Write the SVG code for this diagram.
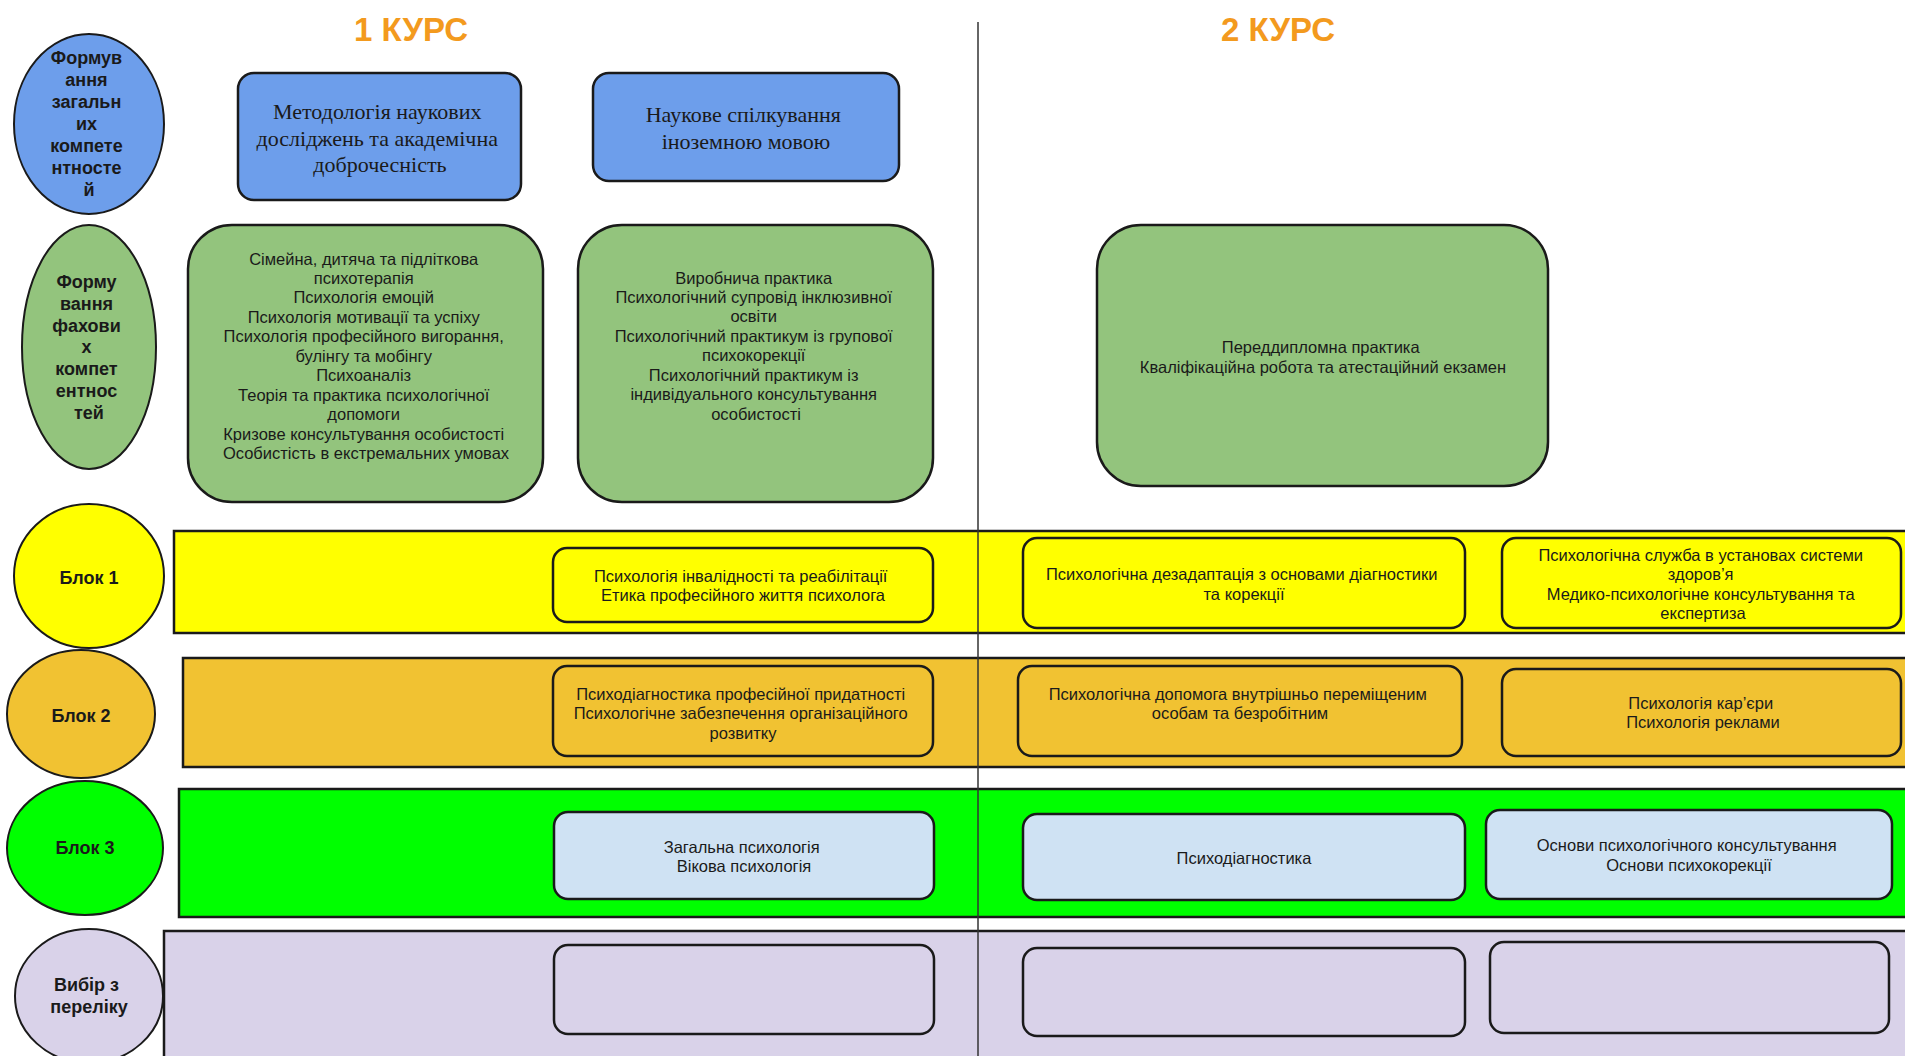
<svg xmlns="http://www.w3.org/2000/svg" width="1905" height="1056" viewBox="0 0 1905 1056">
<style>
  .title{font-family:"Liberation Sans",Arial,sans-serif;font-weight:bold;font-size:33px;fill:#f39a1e;text-anchor:middle}
  .lbl{font-family:"Liberation Sans",Arial,sans-serif;font-weight:bold;font-size:18px;fill:#1a1a1a;text-anchor:middle}
  .serif{font-family:"Liberation Serif","Times New Roman",serif;font-size:22px;fill:#1a1a1a;text-anchor:middle}
  .txt{font-family:"Liberation Sans",Arial,sans-serif;font-size:16.5px;fill:#1a1a1a;text-anchor:middle}
  .ell{stroke:#1a1a1a;stroke-width:2}
  .box{stroke:#1a1a1a;stroke-width:2.5}
  .band{stroke:#1a1a1a;stroke-width:2.5}
  .blue{fill:#6d9eeb}
  .sage{fill:#93c47d}
  .yel{fill:#ffff00}
  .org{fill:#f1c232}
  .lime{fill:#00ff00}
  .lblue{fill:#cfe2f3}
  .lav{fill:#d9d2e9}
</style>
<rect width="1905" height="1056" fill="#ffffff"/>

<g id="titles">
  <text class="title" x="411" y="41">1 КУРС</text>
  <text class="title" x="1278" y="41">2 КУРС</text>
</g>

<!-- Bands -->
<g id="band-blok1"><rect class="band yel" x="174" y="531" width="1740" height="102"/></g>
<g id="band-blok2"><rect class="band org" x="183" y="658" width="1731" height="109"/></g>
<g id="band-blok3"><rect class="band lime" x="179" y="789" width="1735" height="128"/></g>
<g id="band-vybir"><rect class="band lav" x="164" y="931" width="1750" height="135"/></g>

<!-- Row labels (ellipses) -->
<g id="ell-zagalni">
  <ellipse class="ell blue" cx="89" cy="124" rx="75" ry="90"/>
  <text class="lbl">
    <tspan x="89" y="64">Формув</tspan>
    <tspan x="89" y="86">ання</tspan>
    <tspan x="89" y="108">загальн</tspan>
    <tspan x="89" y="130">их</tspan>
    <tspan x="89" y="152">компете</tspan>
    <tspan x="89" y="174">нтносте</tspan>
    <tspan x="89" y="196">й</tspan>
  </text>
</g>
<g id="ell-fakhovi">
  <ellipse class="ell sage" cx="89" cy="347" rx="67" ry="122"/>
  <text class="lbl">
    <tspan x="89" y="288">Форму</tspan>
    <tspan x="89" y="310">вання</tspan>
    <tspan x="89" y="332">фахови</tspan>
    <tspan x="89" y="353">х</tspan>
    <tspan x="89" y="375">компет</tspan>
    <tspan x="89" y="397">ентнос</tspan>
    <tspan x="89" y="419">тей</tspan>
  </text>
</g>
<g id="ell-blok1">
  <ellipse class="ell yel" cx="89" cy="576" rx="75" ry="72"/>
  <text class="lbl" x="89" y="584">Блок 1</text>
</g>
<g id="ell-blok2">
  <ellipse class="ell org" cx="81" cy="714" rx="74" ry="64"/>
  <text class="lbl" x="81" y="722">Блок 2</text>
</g>
<g id="ell-blok3">
  <ellipse class="ell lime" cx="85" cy="848" rx="78" ry="67"/>
  <text class="lbl" x="85" y="854">Блок 3</text>
</g>
<g id="ell-vybir">
  <ellipse class="ell lav" cx="89" cy="996" rx="74" ry="67"/>
  <text class="lbl">
    <tspan x="89" y="991">Вибір з</tspan>
    <tspan x="89" y="1013">переліку</tspan>
  </text>
</g>

<!-- General competences -->
<g id="box-metodologia">
  <rect class="box blue" x="238" y="73" width="283" height="127" rx="16"/>
  <text class="serif">
    <tspan x="380" y="119">Методологія наукових</tspan>
    <tspan x="380" y="145.5">досліджень та академічна</tspan>
    <tspan x="380" y="172">доброчесність</tspan>
  </text>
</g>
<g id="box-inozemna">
  <rect class="box blue" x="593" y="73" width="306" height="108" rx="16"/>
  <text class="serif">
    <tspan x="746" y="122">Наукове спілкування</tspan>
    <tspan x="746" y="149">іноземною мовою</tspan>
  </text>
</g>

<!-- Professional competences -->
<g id="box-fakh1">
  <rect class="box sage" x="188" y="225" width="355" height="277" rx="44"/>
  <text class="txt">
    <tspan x="366" y="264.5">Сімейна, дитяча та підліткова</tspan>
    <tspan x="366" y="284">психотерапія</tspan>
    <tspan x="366" y="303.4">Психологія емоцій</tspan>
    <tspan x="366" y="322.8">Психологія мотивації та успіху</tspan>
    <tspan x="366" y="342.3">Психологія професійного вигорання,</tspan>
    <tspan x="366" y="361.7">булінгу та мобінгу</tspan>
    <tspan x="366" y="381.1">Психоаналіз</tspan>
    <tspan x="366" y="400.6">Теорія та практика психологічної</tspan>
    <tspan x="366" y="420">допомоги</tspan>
    <tspan x="366" y="439.5">Кризове консультування особистості</tspan>
    <tspan x="366" y="458.9">Особистість в екстремальних умовах</tspan>
  </text>
</g>
<g id="box-fakh2">
  <rect class="box sage" x="578" y="225" width="355" height="277" rx="44"/>
  <text class="txt">
    <tspan x="756" y="283.5">Виробнича практика</tspan>
    <tspan x="756" y="303">Психологічний супровід інклюзивної</tspan>
    <tspan x="756" y="322.4">освіти</tspan>
    <tspan x="756" y="341.8">Психологічний практикум із групової</tspan>
    <tspan x="756" y="361.3">психокорекції</tspan>
    <tspan x="756" y="380.7">Психологічний практикум із</tspan>
    <tspan x="756" y="400.1">індивідуального консультування</tspan>
    <tspan x="756" y="419.6">особистості</tspan>
  </text>
</g>
<g id="box-fakh3">
  <rect class="box sage" x="1097" y="225" width="451" height="261" rx="44"/>
  <text class="txt">
    <tspan x="1323" y="353">Переддипломна практика</tspan>
    <tspan x="1323" y="372.5">Кваліфікаційна робота та атестаційний екзамен</tspan>
  </text>
</g>

<!-- Блок 1 -->
<g id="box-b1-1">
  <rect class="box yel" x="553" y="548" width="380" height="74" rx="14"/>
  <text class="txt">
    <tspan x="743" y="581.5">Психологія інвалідності та реабілітації</tspan>
    <tspan x="743" y="601">Етика професійного життя психолога</tspan>
  </text>
</g>
<g id="box-b1-2">
  <rect class="box yel" x="1023" y="538" width="442" height="90" rx="14"/>
  <text class="txt">
    <tspan x="1244" y="580">Психологічна дезадаптація з основами діагностики</tspan>
    <tspan x="1244" y="599.5">та корекції</tspan>
  </text>
</g>
<g id="box-b1-3">
  <rect class="box yel" x="1502" y="538" width="399" height="90" rx="14"/>
  <text class="txt">
    <tspan x="1703" y="560.5">Психологічна служба в установах системи</tspan>
    <tspan x="1703" y="580">здоров’я</tspan>
    <tspan x="1703" y="599.5">Медико-психологічне консультування та</tspan>
    <tspan x="1703" y="619">експертиза</tspan>
  </text>
</g>

<!-- Блок 2 -->
<g id="box-b2-1">
  <rect class="box org" x="553" y="666" width="380" height="90" rx="14"/>
  <text class="txt">
    <tspan x="743" y="699.5">Психодіагностика професійної придатності</tspan>
    <tspan x="743" y="719">Психологічне забезпечення організаційного</tspan>
    <tspan x="743" y="738.5">розвитку</tspan>
  </text>
</g>
<g id="box-b2-2">
  <rect class="box org" x="1018" y="666" width="444" height="90" rx="14"/>
  <text class="txt">
    <tspan x="1240" y="699.5">Психологічна допомога внутрішньо переміщеним</tspan>
    <tspan x="1240" y="719">особам та безробітним</tspan>
  </text>
</g>
<g id="box-b2-3">
  <rect class="box org" x="1502" y="669" width="399" height="87" rx="14"/>
  <text class="txt">
    <tspan x="1703" y="708.5">Психологія кар’єри</tspan>
    <tspan x="1703" y="728">Психологія реклами</tspan>
  </text>
</g>

<!-- Блок 3 -->
<g id="box-b3-1">
  <rect class="box lblue" x="554" y="812" width="380" height="87" rx="14" stroke-width="1.5"/>
  <text class="txt">
    <tspan x="744" y="852.5">Загальна психологія</tspan>
    <tspan x="744" y="872">Вікова психологія</tspan>
  </text>
</g>
<g id="box-b3-2">
  <rect class="box lblue" x="1023" y="814" width="442" height="86" rx="14" stroke-width="1.5"/>
  <text class="txt" x="1244" y="863.5">Психодіагностика</text>
</g>
<g id="box-b3-3">
  <rect class="box lblue" x="1486" y="810" width="406" height="89" rx="14" stroke-width="1.5"/>
  <text class="txt">
    <tspan x="1689" y="851">Основи психологічного консультування</tspan>
    <tspan x="1689" y="870.5">Основи психокорекції</tspan>
  </text>
</g>

<!-- Вибір з переліку -->
<g id="box-v-1"><rect class="box lav" x="554" y="945" width="380" height="89" rx="14"/></g>
<g id="box-v-2"><rect class="box lav" x="1023" y="948" width="442" height="88" rx="14"/></g>
<g id="box-v-3"><rect class="box lav" x="1490" y="942" width="399" height="91" rx="14"/></g>

<g id="connectors">
  <line x1="978" y1="22" x2="978" y2="1056" stroke="#333333" stroke-width="1.5"/>
</g>
</svg>
